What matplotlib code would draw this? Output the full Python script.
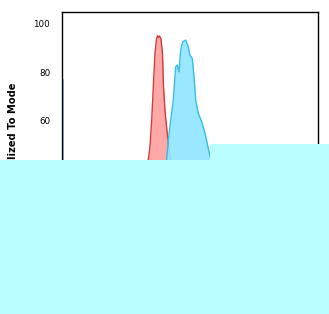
import matplotlib
matplotlib.use("Agg")
import matplotlib.pyplot as plt
from matplotlib.patches import Rectangle

# ---- data (channel position, % of max) ----
red_x = [70, 80, 84, 86.3, 88.0, 89.7, 91.3, 93.0, 94.5, 95.5, 96.4, 97.4, 98.9,
         100.5, 101.5, 103.2, 104.9, 107.5, 108.9, 112, 120]
red_y = [0, 8, 25, 44.1, 49.5, 60.4, 73.9, 87.7, 93.5, 94.9, 94.2, 94.8, 93.7,
         87.6, 73.9, 63.1, 56.3, 46.7, 44.1, 30, 0]

cyan_x = [96, 102, 104.6, 106.3, 111.3, 113.7, 115.3, 117.0, 118.7, 120.7, 123.7,
          126.3, 128.0, 130.3, 132.0, 133.7, 136.3, 139.7, 143.0, 148.0, 149.0,
          155, 165]
cyan_y = [0, 25, 44.1, 52.2, 68.6, 82.2, 82.9, 80.1, 89.0, 92.4, 93.1,
          90.3, 86.9, 85.6, 78.1, 68.6, 63.1, 59.7, 55.0, 45.5, 44.1,
          25, 0]

edge_x = [1.3, 1.3, 2.5]
edge_y = [76.8, 2, 0]

yticks = [0, 20, 40, 60, 80, 100]
ylabel = "Normalized To Mode"

W, H = 329, 314
fig = plt.figure(figsize=(W / 100, H / 100), dpi=100)
ax = fig.add_axes([62 / W, 1 - 267.5 / H, (318 - 62) / W, (267.5 - 12) / H])

ax.fill_between(red_x, red_y, color="#FFA3A3", alpha=0.95, lw=0, zorder=2)
ax.plot(red_x, red_y, color="#D23C3C", lw=1.0, zorder=3)
ax.fill_between(cyan_x, cyan_y, color="#8FE6FF", alpha=0.9, lw=0, zorder=4)
ax.plot(cyan_x, cyan_y, color="#38BEE0", lw=1.0, zorder=5)
ax.plot(edge_x, edge_y, color="#6CCBE8", lw=1.0, zorder=5, clip_on=False)

ax.set_xlim(0, 256)
ax.set_ylim(0, 104.6)
ax.set_yticks(yticks)
ax.set_yticklabels([str(v) for v in yticks], fontsize=6.3)
ax.tick_params(axis="y", length=0, pad=8.5)
ax.tick_params(axis="x", length=0, labelsize=6.3)
for s in ax.spines.values():
    s.set_linewidth(1.0)
    s.set_color("black")
    s.set_zorder(6)

ax.set_ylabel(ylabel, fontsize=7.1, fontweight="bold")
ax.yaxis.set_label_coords((18 - 62) / 256, 0.5)

# light cyan overlay covering the lower part of the image
fig.patches.append(Rectangle((0, 0), 1, 1 - 160 / H, transform=fig.transFigure,
                             facecolor="#BAFFFF", edgecolor="none", zorder=20))
fig.patches.append(Rectangle((210 / W, 1 - 161 / H), 1 - 210 / W, 17 / H,
                             transform=fig.transFigure,
                             facecolor="#BAFFFF", edgecolor="none", zorder=20))

fig.savefig("out.png", dpi=100)
